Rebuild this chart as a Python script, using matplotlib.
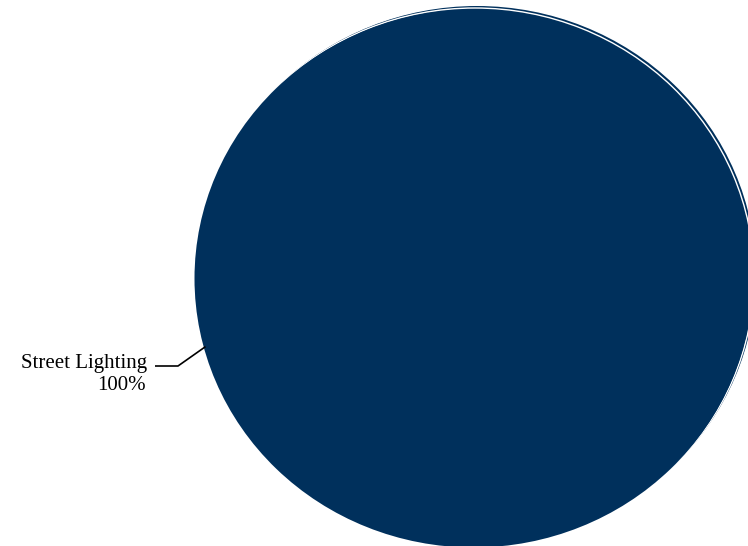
import numpy as np
import matplotlib
matplotlib.use("Agg")
import matplotlib.pyplot as plt
from matplotlib.patches import Ellipse

categories = ["Street Lighting"]
values = [100]
pct_labels = ["100%"]
colors = ["#00305C"]

W, H = 748, 546
fig = plt.figure(figsize=(W / 100, H / 100), dpi=100)
ax = fig.add_axes([0, 0, 1, 1])

# pixel geometry of the pie
cx, cy = 475, 277
rx, ry = 279, 269

# slight offset rim at top-right
ax.add_patch(Ellipse((2.0 / rx, 2.0 / ry), 2, 2, facecolor=colors[0], edgecolor="none", zorder=1))
wedges, _ = ax.pie(values, colors=colors, startangle=90, counterclock=False,
                   radius=1, center=(0, 0), frame=True,
                   wedgeprops=dict(edgecolor="white", linewidth=1.0, zorder=2))
ax.add_patch(Ellipse((-1.5 / rx, -1.5 / ry), 2, 2, facecolor=colors[0], edgecolor="none", zorder=3))
ax.set_xlim(-cx / rx, (W - cx) / rx)
ax.set_ylim(-(H - cy) / ry, cy / ry)
ax.set_aspect("auto")
ax.axis("off")

# label with leader line
theta = np.deg2rad(195)
px, py = np.cos(theta), np.sin(theta)
knee_x = (178 - cx) / rx
knee_y = (cy - 366) / ry
end_x = (155 - cx) / rx
ax.plot([px, knee_x, end_x], [py, knee_y, knee_y], color="black", lw=1.2, zorder=4,
        solid_capstyle="butt")
ax.text((147 - cx) / rx, (cy - 368) / ry, categories[0], ha="right", va="baseline",
        fontsize=15, family="Liberation Serif", color="black")
ax.text((146 - cx) / rx, (cy - 390) / ry, pct_labels[0], ha="right", va="baseline",
        fontsize=15, family="Liberation Serif", color="black")

fig.savefig("out.png", dpi=100)
